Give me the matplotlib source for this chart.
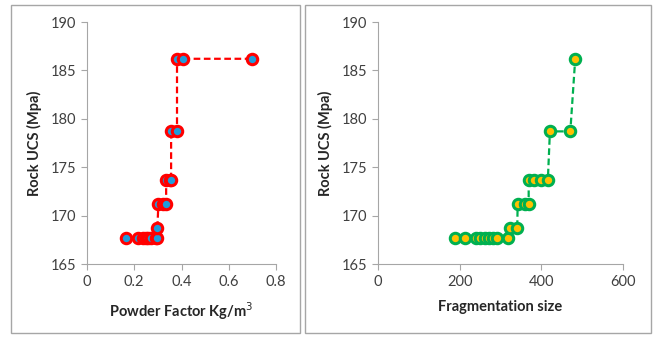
import matplotlib
matplotlib.use("Agg")
import matplotlib.pyplot as plt
from matplotlib.patches import Rectangle

plt.rcParams['font.family'] = ['Lato', 'DejaVu Sans']

# powder factor vs UCS
pf = [0.167, 0.215, 0.235, 0.249, 0.26, 0.273, 0.29, 0.298, 0.298, 0.302, 0.32, 0.335,
      0.335, 0.35, 0.356, 0.356, 0.381, 0.381, 0.406, 0.70]
pf_ucs = [167.7, 167.7, 167.7, 167.7, 167.7, 167.7, 167.7, 167.7, 168.7, 171.2, 171.2, 171.2,
          173.7, 173.7, 173.7, 178.7, 178.7, 186.2, 186.2, 186.2]

# fragmentation size vs UCS
frag = [188, 212, 241, 251, 261, 271, 281, 291, 318, 323, 341, 342, 360, 369,
        369, 381, 398, 416, 421, 471, 483]
frag_ucs = [167.7, 167.7, 167.7, 167.7, 167.7, 167.7, 167.7, 167.7, 167.7, 168.7, 168.7,
            171.2, 171.2, 171.2, 173.7, 173.7, 173.7, 173.7, 178.7, 178.7, 186.2]

W, H = 653, 338
fig = plt.figure(figsize=(W / 100, H / 100), dpi=100)

# chart area borders
for x0, x1 in [(11, 300), (305, 651)]:
    fig.patches.append(Rectangle((x0 / W, 1 - 333 / H), (x1 - x0) / W, 328 / H,
                                 transform=fig.transFigure, fill=False,
                                 edgecolor='#a6a6a6', linewidth=1))

ax1 = fig.add_axes([87 / W, 1 - 264 / H, (276 - 87) / W, (264 - 22) / H])
ax2 = fig.add_axes([378 / W, 1 - 264 / H, (623 - 378) / W, (264 - 22) / H])

ax1.plot(pf, pf_ucs, '--', color='#ff0000', lw=1.6, dashes=(3, 1.6),
         marker='o', ms=7.5, mfc='#1f9ddb', mec='#ff0000', mew=2.2)
ax2.plot(frag, frag_ucs, '--', color='#00b050', lw=1.6, dashes=(3, 1.6),
         marker='o', ms=7.5, mfc='#ffc000', mec='#00b050', mew=2.2)

ax1.set_xlim(0, 0.8)
ax1.set_xticks([0, 0.2, 0.4, 0.6, 0.8])
ax1.set_xticklabels(['0', '0.2', '0.4', '0.6', '0.8'])
ax2.set_xlim(0, 600)
ax2.set_xticks([0, 200, 400, 600])

for ax in (ax1, ax2):
    ax.set_ylim(165, 190)
    ax.set_yticks([165, 170, 175, 180, 185, 190])
    ax.spines['top'].set_visible(False)
    ax.spines['right'].set_visible(False)
    for s in ('left', 'bottom'):
        ax.spines[s].set_color('#a6a6a6')
    ax.tick_params(direction='out', length=4, color='#a6a6a6', labelsize=10.5,
                   labelcolor='#404040', pad=4)
    ax.set_ylabel('Rock UCS (Mpa)', fontsize=10.5, fontweight='bold', color='#262626',
                  labelpad=6)

ax1.set_xlabel('Powder Factor Kg/m$^3$', fontsize=10.5, fontweight='bold', color='#262626',
               labelpad=8)
ax2.set_xlabel('Fragmentation size', fontsize=10.5, fontweight='bold', color='#262626',
               labelpad=8)

fig.savefig('out.png', dpi=100)
